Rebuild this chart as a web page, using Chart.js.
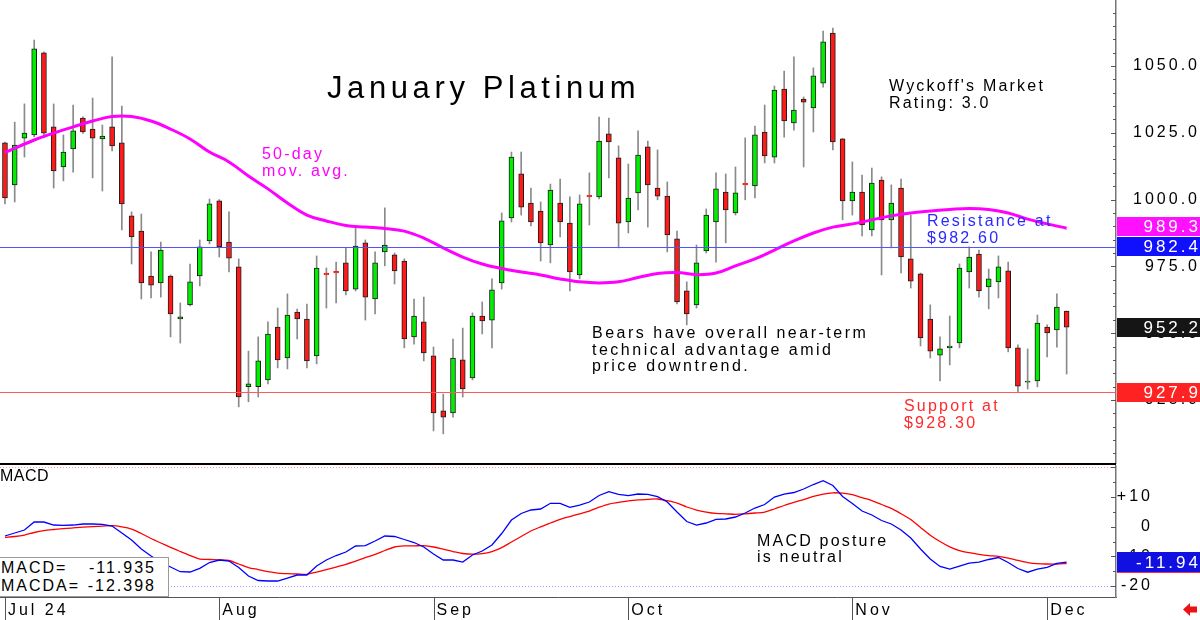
<!DOCTYPE html>
<html><head><meta charset="utf-8">
<script src="https://cdn.jsdelivr.net/npm/chart.js@4.4.1/dist/chart.umd.min.js"></script>
<style>
html,body{margin:0;padding:0;background:#fff;}
body{width:1200px;height:620px;overflow:hidden;position:relative;font-family:"Liberation Sans",Arial,sans-serif;}
canvas{position:absolute;left:0;}
#main{top:0;}
#macd{top:465px;}
.t{position:absolute;font-size:16px;line-height:16.5px;letter-spacing:2.2px;white-space:pre;color:#000;}
#legendBox{position:absolute;left:-1px;top:557px;width:168px;height:38px;background:#fff;border:1px solid #9a9a9a;font-size:16px;line-height:17px;letter-spacing:2px;}
#legendBox div{display:flex;justify-content:space-between;padding:1px 12px 0 1px;}
</style></head><body>
<canvas id="main" width="1200" height="465" style="width:1200px;height:465px"></canvas>
<canvas id="macd" width="1200" height="155" style="width:1200px;height:155px"></canvas>
<div class="t" style="left:327px;top:72px;font-size:31px;line-height:31px;letter-spacing:4.6px">January Platinum</div>
<div class="t" style="left:889px;top:78px">Wyckoff's Market
Rating: 3.0</div>
<div class="t" style="left:262px;top:146px;color:#ff00ff">50-day
mov. avg.</div>
<div class="t" style="left:927px;top:213px;color:#2a2aff">Resistance at
$982.60</div>
<div class="t" style="left:592px;top:325px;letter-spacing:2.5px">Bears have overall near-term
technical advantage amid
price downtrend.</div>
<div class="t" style="left:904px;top:398px;color:#ff2a2a">Support at
$928.30</div>
<div class="t" style="left:0px;top:468px;background:#fff;padding-right:4px;letter-spacing:0.5px">MACD</div>
<div class="t" style="left:757px;top:533px;line-height:16px">MACD posture
is neutral</div>
<div id="legendBox"><div><span>MACD=</span><span id="lgMacd"></span></div><div><span>MACDA=</span><span id="lgMacda"></span></div></div>
<script>
// ---- price candles (Jul 1 2024 .. Dec 4 2024, one per trading day) ----
const opens = [1021.2,1005.5,1023.0,1024.2,1054.9,1027.2,1012.2,1019.0,1030.5,1026.4,
1022.7,1027.2,1021.2,993.9,988.2,971.4,968.8,971.4,955.3,960.6,
971.4,984.5,999.5,984.1,974.8,930.0,930.0,932.5,952.3,940.7,
957.9,955.3,941.5,972.5,973.1,976.3,966.5,983.8,962.8,980.4,
979.3,977.0,948.6,954.2,941.5,920.9,920.1,940.0,933.2,956.4,
954.9,968.8,993.1,1009.6,998.7,995.7,983.0,998.7,991.2,971.8,
1001.6,1001.0,1024.6,1015.6,991.6,1002.5,1019.7,1004.3,1001.3,985.3,
965.8,960.6,980.8,991.6,1002.8,995.0,1006.1,1005.1,1025.3,1015.9,
1041.4,1028.7,1037.6,1034.3,1043.6,1062.3,1022.7,999.5,1002.8,988.6,
1007.3,992.4,1004.3,977.8,972.2,955.3,941.8,944.5,946.3,972.9,
979.6,967.3,969.2,973.3,944.5,931.7,932.1,952.3,951.2,958.3];
const highs = [1021.5,1029.0,1035.8,1059.7,1055.3,1035.8,1024.2,1035.4,1031.0,1038.0,
1027.9,1053.4,1035.0,995.4,994.6,980.4,984.1,971.8,961.3,975.9,
984.9,1000.2,1000.0,995.4,977.8,943.3,948.6,954.2,959.4,964.7,
959.0,960.9,978.9,974.4,976.6,981.9,989.7,984.9,980.4,996.9,
980.0,977.8,962.8,963.5,944.8,927.2,947.8,951.9,957.6,961.7,
970.3,995.0,1017.8,1017.8,1004.3,999.1,1005.8,1007.7,1001.0,1001.7,
1010.0,1030.9,1030.5,1020.1,1013.3,1025.7,1021.9,1018.6,1006.6,988.2,
969.2,983.0,996.5,1010.0,1009.6,1012.2,1023.1,1027.5,1035.4,1042.5,
1048.1,1053.4,1038.4,1049.3,1063.1,1064.2,1022.9,1014.1,1009.2,1011.8,
1008.5,1005.5,1007.7,994.2,972.5,960.6,948.6,956.4,975.9,982.3,
981.1,974.0,978.9,976.6,945.6,944.1,956.8,953.1,964.7,958.3];
const lows = [998.4,999.1,1015.9,1023.5,1023.1,1004.3,1007.0,1010.3,1024.8,1008.1,
1003.2,1018.2,988.6,975.9,962.8,963.2,963.5,948.6,946.3,960.2,
967.7,983.4,978.5,972.9,922.4,924.3,926.1,931.0,937.0,936.6,
947.8,937.0,938.5,959.4,961.3,964.3,965.8,954.9,957.2,975.2,
968.4,944.5,945.9,939.6,913.4,912.3,918.6,926.1,932.5,949.7,
944.5,966.5,991.6,994.2,990.1,977.0,976.3,986.0,965.8,970.3,
990.5,1000.2,1008.1,981.9,987.5,996.1,989.7,999.9,980.4,960.9,
953.1,959.4,980.0,976.6,983.8,994.2,999.9,1000.6,1013.7,1013.7,
1023.4,1026.0,1012.2,1025.3,1042.1,1018.6,992.4,994.2,986.4,986.4,
971.8,981.9,972.5,966.9,945.2,940.7,932.1,938.1,944.5,966.9,
963.5,959.1,963.2,943.0,928.0,929.1,929.9,941.1,944.8,934.7];
const closes = [1000.6,1020.4,1024.9,1056.4,1024.9,1010.7,1017.8,1025.7,1025.3,1023.0,
1023.8,1020.1,998.4,986.0,968.8,968.0,981.1,957.2,956.1,969.2,
982.3,998.4,982.3,978.1,926.1,931.0,939.6,949.7,940.0,956.8,
955.3,939.6,974.4,971.9,972.5,965.8,982.6,963.5,976.3,983.0,
973.3,947.8,956.4,942.6,920.1,918.6,940.7,929.1,956.4,954.6,
966.2,992.0,1015.9,997.2,991.6,983.8,1003.6,991.6,972.9,998.4,
1001.0,1021.9,1021.6,991.2,1000.6,1016.7,1005.5,1001.3,986.8,961.7,
957.2,976.3,994.2,1004.0,996.1,1002.5,1005.5,1024.2,1016.3,1041.0,
1029.4,1033.5,1036.5,1046.3,1059.0,1021.6,999.5,1002.8,990.5,1006.2,
992.4,998.7,978.5,969.5,948.2,943.3,944.1,945.2,974.4,978.5,
965.8,970.3,974.8,944.5,930.2,932.1,953.8,950.1,959.8,952.2];

// ---- 50-day moving average (read at these trading-day indices) ----
const maDays = [0,3,5,7,9,11,13,15,17,19,21,23,25,27,29,31,33,35,37,39,41,43,45,47,49,51,53,55,57,59,
61,63,65,67,69,71,73,75,77,79,81,83,85,87,89,91,93,95,97,99,101,103,105,107,109];
const maValues = [1017.6,1022.3,1024.9,1027.2,1029.4,1031.1,1031.1,1029.4,1026.4,1022.7,1017.8,1014.1,1008.8,1004.0,998.7,
994.2,992.0,990.3,989.7,989.2,988.2,985.6,981.9,978.5,975.9,974.2,972.9,971.8,970.3,969.2,
968.8,969.2,970.8,972.3,972.7,971.9,972.5,975.2,977.8,981.1,984.5,987.5,989.7,990.9,992.4,
993.9,995.0,995.7,996.3,996.7,996.3,995.0,992.7,990.9,989.3];

// ---- MACD ----
const macdValues = [-3.13,-2.12,-1.11,1.58,1.58,0.57,0.47,0.57,0.91,0.91,
0.81,0.24,-2.12,-4.48,-7.52,-9.88,-11.90,-13.58,-15.17,-15.27,
-14.02,-12.07,-11.22,-11.56,-13.75,-16.62,-18.13,-18.30,-18.30,-17.29,
-16.28,-16.28,-13.25,-11.22,-9.71,-8.53,-6.50,-6.40,-4.82,-3.13,
-3.30,-4.31,-5.33,-6.84,-9.20,-11.22,-11.22,-11.90,-9.54,-8.19,
-6.17,-2.29,2.26,4.45,5.63,5.97,7.89,7.89,6.54,7.31,
8.32,10.52,11.80,10.92,10.45,11.02,10.92,10.11,8.32,4.95,
1.75,0.57,1.25,2.49,2.60,3.27,4.62,6.30,7.48,10.01,
11.02,11.53,12.71,14.22,15.50,13.89,10.18,7.82,5.29,3.94,
2.09,0.91,-1.11,-3.81,-7.52,-10.89,-13.41,-14.26,-13.25,-12.30,
-11.96,-11.05,-10.38,-12.07,-14.09,-15.34,-14.26,-13.68,-12.37,-11.935];
const macdaValues = [-3.57,-3.30,-2.80,-1.95,-1.31,-0.94,-0.64,-0.37,-0.17,0.03,
0.20,0.34,-0.03,-0.78,-2.29,-3.98,-5.49,-6.94,-8.36,-9.71,
-10.89,-11.05,-11.16,-11.39,-12.57,-13.75,-14.43,-15.10,-15.67,-15.81,
-15.94,-16.04,-15.27,-14.43,-13.58,-12.67,-11.56,-10.45,-9.34,-8.02,
-6.84,-6.47,-6.44,-6.40,-6.84,-7.58,-8.36,-9.03,-9.27,-9.07,
-8.36,-7.04,-5.16,-3.30,-1.45,-0.03,1.25,2.49,3.44,4.35,
5.29,6.57,7.65,8.19,8.73,9.07,9.20,9.34,8.76,7.99,
6.64,5.63,4.95,4.48,4.35,4.18,4.35,4.62,4.95,5.97,
7.15,8.19,9.17,10.21,11.02,11.43,11.29,10.79,9.77,8.80,
7.48,6.20,4.38,2.43,-0.27,-2.86,-4.99,-6.77,-8.02,-8.76,
-9.30,-9.71,-9.98,-10.55,-11.36,-12.07,-12.47,-12.57,-12.57,-12.398];

// ---- axes / levels ----
const priceTicks = [925, 950, 975, 1000, 1025, 1050];
const macdTicks = [-20, -10, 0, 10];
const macdGuides = [20, -20];
const monthTickDays = [0, 22, 44, 64, 87, 107];
const monthLabels = ['Jul 24', 'Aug', 'Sep', 'Oct', 'Nov', 'Dec'];
const resistanceLevel = 982.4;
const supportLevel = 927.9;

const FONT = 'Liberation Sans';
const idx = closes.map((_, i) => i);
const lastClose = closes[closes.length - 1];
const lastMA = maValues[maValues.length - 1];
const lastMacd = macdValues[macdValues.length - 1];
const lastMacda = macdaValues[macdaValues.length - 1];

document.getElementById('lgMacd').textContent = lastMacd.toFixed(3);
document.getElementById('lgMacda').textContent = lastMacda.toFixed(3);

function hLine(ctx, x0, x1, y, color, w) {
  ctx.strokeStyle = color; ctx.lineWidth = w;
  ctx.beginPath(); ctx.moveTo(x0, y); ctx.lineTo(x1, y); ctx.stroke();
}
function drawBoxes(ctx, list, x0, x1, h) {
  list.forEach(b => {
    ctx.fillStyle = b.bg;
    ctx.fillRect(x0, b.top, x1 - x0, h);
    ctx.fillStyle = '#fff';
    ctx.font = '17px "' + FONT + '"';
    ctx.textAlign = 'right'; ctx.textBaseline = 'middle';
    ctx.fillText(b.text, x1 + 1, b.top + h / 2 + 1);
  });
}
function noPad(s) { s.paddingTop = 0; s.paddingBottom = 0; s.paddingLeft = 0; s.paddingRight = 0; }

const mainDeco = {
  id: 'mainDeco',
  beforeLayout(c) { c.ctx.letterSpacing = '3px'; },
  beforeDraw(c) { c.ctx.letterSpacing = '3px'; },
  afterDatasetsDraw(c) {
    const {ctx, chartArea: a, scales: {y}} = c;
    ctx.save();
    ctx.setLineDash([]);
    hLine(ctx, a.left, a.right, Math.round(y.getPixelForValue(resistanceLevel)) + 0.5, '#5252ff', 1);
    hLine(ctx, a.left, a.right, Math.round(y.getPixelForValue(supportLevel)) + 0.5, '#ff5a5a', 1);
    ctx.restore();
  },
  afterDraw(c) {
    const {ctx, chartArea: a, scales: {y}} = c;
    ctx.save();
    ctx.fillStyle = '#000';
    ctx.fillRect(0, a.bottom, a.right, 2);
    ctx.strokeStyle = '#555'; ctx.lineWidth = 1;
    for (let v = 905; v <= 1070; v += 5) {
      const py = Math.round(y.getPixelForValue(v)) + 0.5;
      const len = v % 25 === 0 ? 5 : 3;
      ctx.beginPath(); ctx.moveTo(a.right - len, py); ctx.lineTo(a.right, py); ctx.stroke();
    }
    const H = 19;
    const boxes = [
      {v: supportLevel, bg: '#ff2222', text: supportLevel.toFixed(1)},
      {v: lastClose, bg: '#151515', text: lastClose.toFixed(1)},
      {v: resistanceLevel, bg: '#1010ff', text: resistanceLevel.toFixed(1)},
      {v: lastMA, bg: '#ff10ff', text: lastMA.toFixed(1)}
    ];
    let prevTop = Infinity;
    boxes.forEach(b => {
      let top = y.getPixelForValue(b.v) - H / 2;
      if (top + H > prevTop - 1) top = prevTop - 1 - H;
      b.top = Math.round(top);
      prevTop = b.top;
    });
    drawBoxes(ctx, boxes, a.right + 1, 1200, H);
    ctx.restore();
  }
};

const macdDeco = {
  id: 'macdDeco',
  beforeLayout(c) { c.ctx.letterSpacing = '3px'; },
  beforeDraw(c) { c.ctx.letterSpacing = '3px'; },
  beforeDatasetsDraw(c) {
    const {ctx, chartArea: a, scales: {y}} = c;
    ctx.save();
    ctx.setLineDash([1, 2]);
    const cols = ['#ff9a9a', '#9a9aff'];
    macdGuides.forEach((v, k) => hLine(ctx, a.left, a.right, Math.round(y.getPixelForValue(v)) + 0.5, cols[k], 1));
    ctx.restore();
  },
  afterDraw(c) {
    const {ctx, chartArea: a, scales: {x, y}} = c;
    ctx.save();
    ctx.strokeStyle = '#555'; ctx.lineWidth = 1;
    for (let v = -20; v <= 20; v += 5) {
      const py = Math.round(y.getPixelForValue(v)) + 0.5;
      const len = v % 10 === 0 ? 5 : 3;
      ctx.beginPath(); ctx.moveTo(a.right - len, py); ctx.lineTo(a.right, py); ctx.stroke();
    }
    monthTickDays.forEach(d => {
      const px = Math.round(x.getPixelForValue(d)) + 0.5;
      ctx.beginPath(); ctx.moveTo(px, a.bottom); ctx.lineTo(px, c.height); ctx.stroke();
    });
    const H = 20;
    const boxes = [
      {v: lastMacda, bg: '#ff2a4a', text: ''},
      {v: lastMacd, bg: '#1010e0', text: lastMacd.toFixed(2)}
    ];
    boxes.forEach(b => { b.top = Math.round(y.getPixelForValue(b.v) - H / 2); });
    drawBoxes(ctx, boxes, a.right + 1, 1200, H);
    // red arrow (bottom right)
    const ay = 144.5;
    ctx.fillStyle = '#ee1111';
    ctx.beginPath();
    ctx.moveTo(1183, ay); ctx.lineTo(1190, ay - 6.5); ctx.lineTo(1190, ay - 3);
    ctx.lineTo(1197, ay - 3); ctx.lineTo(1197, ay + 3); ctx.lineTo(1190, ay + 3);
    ctx.lineTo(1190, ay + 6.5); ctx.closePath(); ctx.fill();
    ctx.restore();
  }
};

const tickFont = {family: FONT, size: 16};
const bodyColor = i => closes[i] >= opens[i] ? '#00ee00' : '#ff1a1a';

new Chart(document.getElementById('main'), {
  type: 'bar',
  data: {
    datasets: [
      {type: 'line', data: maDays.map((d, k) => ({x: d, y: maValues[k]})), borderColor: '#ff00ff',
       borderWidth: 3, pointRadius: 0, tension: 0.4, order: 1},
      {data: idx.map(i => ({x: i, y: [opens[i], closes[i]]})),
       backgroundColor: idx.map(bodyColor),
       borderColor: idx.map(i => Math.abs(closes[i] - opens[i]) < 1 && closes[i] < opens[i] ? bodyColor(i) : '#1c1c1c'),
       borderWidth: 1, borderSkipped: false, barThickness: 5, grouped: false, order: 2},
      {data: idx.map(i => ({x: i, y: [lows[i], highs[i]]})), backgroundColor: '#8a8a8a',
       barThickness: 1, grouped: false, order: 3}
    ]
  },
  options: {
    responsive: false, animation: false, devicePixelRatio: 1,
    layout: {padding: {left: 0, right: 0, top: 0, bottom: 2}},
    plugins: {legend: {display: false}, tooltip: {enabled: false}},
    scales: {
      x: {type: 'linear', min: -0.51, max: 114.07, offset: false, display: false},
      y: {type: 'linear', position: 'right', min: 901.4, max: 1074.7,
          grid: {display: false}, border: {color: '#777', width: 1.5},
          afterFit: s => { s.width = 84; noPad(s); },
          afterBuildTicks: s => { s.ticks = priceTicks.map(v => ({value: v})); },
          ticks: {crossAlign: 'far', color: '#000', font: tickFont, autoSkip: false,
                  callback: v => Number(v).toFixed(1)}}
    }
  },
  plugins: [mainDeco]
});

new Chart(document.getElementById('macd'), {
  type: 'line',
  data: {
    datasets: [
      {data: idx.map(i => ({x: i, y: macdValues[i]})), borderColor: '#0000ff', borderWidth: 1.3,
       pointRadius: 0, tension: 0, order: 1},
      {data: idx.map(i => ({x: i, y: macdaValues[i]})), borderColor: '#ff0000', borderWidth: 1.3,
       pointRadius: 0, tension: 0.3, order: 2}
    ]
  },
  options: {
    responsive: false, animation: false, devicePixelRatio: 1,
    layout: {padding: {left: 0, right: 47, top: 0, bottom: 0}},
    plugins: {legend: {display: false}, tooltip: {enabled: false}},
    scales: {
      x: {type: 'linear', min: -0.51, max: 114.07, offset: false,
          grid: {display: false}, border: {color: '#555', width: 1},
          afterFit: s => { s.height = 23; noPad(s); },
          afterBuildTicks: s => { s.ticks = monthTickDays.map(v => ({value: v})); },
          ticks: {align: 'start', labelOffset: 3, padding: -4, autoSkip: false, maxRotation: 0,
                  color: '#000', font: tickFont, callback: (v, i) => monthLabels[i]}},
      y: {type: 'linear', position: 'right', min: -23.69, max: 20.8,
          grid: {display: false}, border: {color: '#777', width: 1.5},
          afterFit: s => { s.width = 37; noPad(s); },
          afterBuildTicks: s => { s.ticks = macdTicks.map(v => ({value: v})); },
          ticks: {crossAlign: 'far', color: '#000', font: tickFont, autoSkip: false,
                  callback: v => v > 0 ? '+' + v : String(v)}}
    }
  },
  plugins: [macdDeco]
});
</script>
</body></html>
